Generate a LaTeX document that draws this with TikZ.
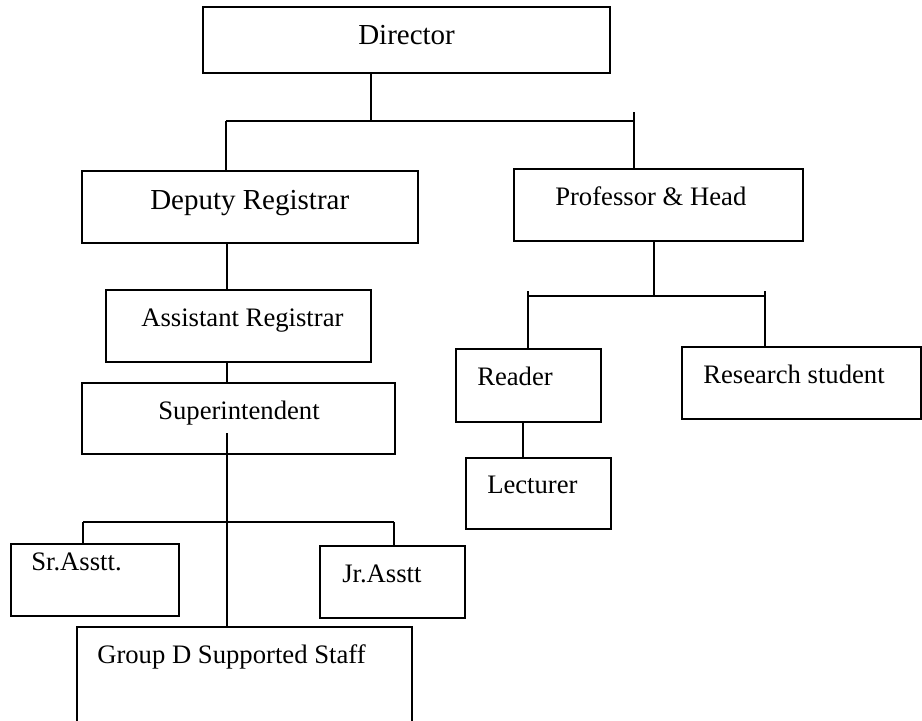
\documentclass[tikz,border=0pt]{standalone}
\usepackage{fontspec}
\setmainfont{Liberation Serif}
\usetikzlibrary{fit}
\begin{document}
\begin{tikzpicture}[x=0.75pt,y=-0.75pt,
  box/.style={draw=black,line width=1.4pt,inner sep=0pt,rectangle},
  lbl/.style={anchor=base west,inner sep=0pt,font=\fontsize{20}{24}\selectfont},
  biglbl/.style={anchor=base west,inner sep=0pt,font=\fontsize{21.75}{26}\selectfont},
  conn/.style={draw=black,line width=1.4pt}]
\clip (0,0) rectangle (922,721);
\fill[white] (0,0) rectangle (922,721);
% boxes
\node[box,fit={(203,7) (610,73)}] (dir) {};
\node[box,fit={(82,171) (418,243)}] (dep) {};
\node[box,fit={(514,169) (803,241)}] (prof) {};
\node[box,fit={(106,290) (371,362)}] (asst) {};
\node[box,fit={(82,383) (395,454)}] (sup) {};
\node[box,fit={(11,544) (179,616)}] (sr) {};
\node[box,fit={(320,546) (465,618)}] (jr) {};
\node[box,fit={(77,627) (412,760)}] (grp) {};
\node[box,fit={(456,349) (601,422)}] (rdr) {};
\node[box,fit={(682,347) (921,419)}] (rs) {};
\node[box,fit={(466,458) (611,529)}] (lec) {};
% labels
\node[biglbl] (dirT) at (358,45) {Director};
\node[biglbl] (depT) at (150,209) {Deputy Registrar};
\node[lbl] (profT) at (555,205) {Professor \& Head};
\node[lbl] (asstT) at (141,326) {Assistant Registrar};
\node[lbl] (supT) at (158,419) {Superintendent};
\node[lbl] (srT) at (31,570) {Sr.Asstt.};
\node[lbl] (jrT) at (342,582) {Jr.Asstt};
\node[lbl] (grpT) at (97,663) {Group D Supported Staff};
\node[lbl] (rdrT) at (477,385) {Reader};
\node[lbl] (rsT) at (703,383) {Research student};
\node[lbl] (lecT) at (487,493) {Lecturer};
% connector coordinates
\coordinate (j1) at (371,121);
\coordinate (b1l) at (226,121);
\coordinate (b1r) at (634,121);
\coordinate (b1t) at (634,112);
\coordinate (v1) at (227,243);
\coordinate (v2) at (227,361);
\coordinate (v3) at (227,433);
\coordinate (b2) at (227,522);
\coordinate (b2l) at (83,522);
\coordinate (b2r) at (394,522);
\coordinate (v4) at (654,241);
\coordinate (b3) at (654,296);
\coordinate (b3l) at (528,296);
\coordinate (b3r) at (765,296);
\coordinate (b3lt) at (528,291);
\coordinate (b3rt) at (765,291);
\coordinate (v5) at (523,422);
% connectors
\draw[conn] (j1 |- dir.south) -- (j1);
\draw[conn] (b1l) -- (b1r);
\draw[conn] (b1l) -- (b1l |- dep.north);
\draw[conn] (b1t) -- (b1t |- prof.north);
\draw[conn] (v1) -- (v1 |- asst.north);
\draw[conn] (v2) -- (v2 |- sup.north);
\draw[conn] (v3) -- (v3 |- grp.north);
\draw[conn] (b2l) -- (b2r);
\draw[conn] (b2l) -- (b2l |- sr.north);
\draw[conn] (b2r) -- (b2r |- jr.north);
\draw[conn] (v4) -- (b3);
\draw[conn] (b3l) -- (b3r);
\draw[conn] (b3lt) -- (b3lt |- rdr.north);
\draw[conn] (b3rt) -- (b3rt |- rs.north);
\draw[conn] (v5) -- (v5 |- lec.north);
\end{tikzpicture}
\end{document}
